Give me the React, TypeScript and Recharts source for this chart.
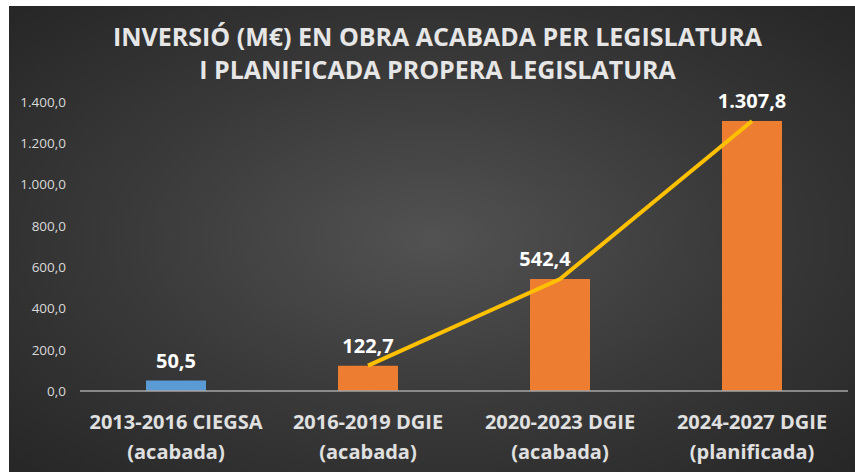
import { ComposedChart, Bar, Line, XAxis, YAxis, Cell, LabelList } from "recharts";

const periods = ["2013-2016 CIEGSA", "2016-2019 DGIE", "2020-2023 DGIE", "2024-2027 DGIE"];
const states = ["(acabada)", "(acabada)", "(acabada)", "(planificada)"];
const investment = [50.5, 122.7, 542.4, 1307.8];
const trend = [null, 122.7, 542.4, 1307.8];
const barColors = ["#5B9BD5", "#ED7D31", "#ED7D31", "#ED7D31"];
const yTicks = [0, 200, 400, 600, 800, 1000, 1200, 1400];

const data = periods.map((p, i) => ({
  name: p,
  sub: states[i],
  value: investment[i],
  trend: trend[i],
}));

const FONT = "'Open Sans', sans-serif";

const fmt = (v: number, dec = 1) => {
  const [int, frac] = v.toFixed(dec).split(".");
  return int.replace(/\B(?=(\d{3})+(?!\d))/g, ".") + "," + frac;
};

function CategoryTick(props: any) {
  const { x, y, payload, index } = props;
  return (
    <g>
      <text x={x} y={y + 30} textAnchor="middle" fill="#e0e0e0" fontSize={20} fontWeight="bold" fontFamily={FONT}>
        {payload.value}
      </text>
      <text x={x} y={y + 60} textAnchor="middle" fill="#e0e0e0" fontSize={20} fontWeight="bold" fontFamily={FONT}>
        {states[index]}
      </text>
    </g>
  );
}

function ValueLabel(props: any) {
  const { x, y, width, value, index } = props;
  const shift = index === 2 ? -15 : 0;
  return (
    <text x={x + width / 2 + shift} y={y - 13} textAnchor="middle" fill="#ffffff" fontSize={20} fontWeight="bold" fontFamily={FONT}>
      {fmt(value)}
    </text>
  );
}

export default function App() {
  return (
    <div style={{ position: "fixed", left: 0, top: 0, width: 855, height: 472, background: "#fff" }}>
      <div
        style={{
          position: "absolute",
          left: 9,
          top: 6,
          right: 0,
          bottom: 0,
          background: "radial-gradient(ellipse at 50% 50%, #525252 0%, #3a3a3a 50%, #262626 100%)",
        }}
      />
      <div
        style={{
          position: "absolute",
          left: 0,
          width: 875,
          top: 20,
          textAlign: "center",
          color: "#e6e6e6",
          fontFamily: FONT,
          fontWeight: "bold",
          fontSize: 25,
          letterSpacing: 0,
          lineHeight: "33px",
        }}
      >
        INVERSIÓ (M€) EN OBRA ACABADA PER LEGISLATURA
        <br />I PLANIFICADA PROPERA LEGISLATURA
      </div>
      <div style={{ position: "absolute", left: 0, top: 0 }}>
        <ComposedChart width={855} height={472} data={data} margin={{ top: 102, right: 7, bottom: 0, left: 10 }}>
          <XAxis
            dataKey="name"
            tick={<CategoryTick />}
            tickLine={false}
            axisLine={{ stroke: "#a6a6a6", strokeWidth: 1.5 }}
            interval={0}
            height={81}
          />
          <YAxis
            domain={[0, 1400]}
            ticks={yTicks}
            tickFormatter={(v: number) => fmt(v)}
            tick={{ fill: "#d9d9d9", fontSize: 13.5, fontFamily: FONT }}
            tickLine={false}
            axisLine={false}
            width={70}
            tickMargin={8}
          />
          <Bar dataKey="value" barSize={60} isAnimationActive={false}>
            {data.map((_, i) => (
              <Cell key={i} fill={barColors[i]} />
            ))}
            <LabelList dataKey="value" content={<ValueLabel />} />
          </Bar>
          <Line
            dataKey="trend"
            stroke="#FFC000"
            strokeWidth={4}
            dot={false}
            activeDot={false}
            isAnimationActive={false}
          />
        </ComposedChart>
      </div>
    </div>
  );
}
